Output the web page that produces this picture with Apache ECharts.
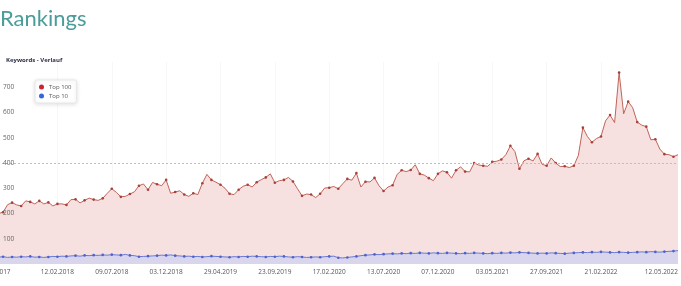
<!DOCTYPE html>
<html>
<head>
<meta charset="utf-8">
<script src="https://cdn.jsdelivr.net/npm/echarts@6/dist/echarts.min.js"></script>
<style>
html,body{margin:0;padding:0;background:#fff;}
#c{width:681px;height:286px;}
</style>
</head>
<body>
<div id="c"></div>
<script>
// Top 100 keyword counts
const top100 = [
200,200,205,235,243,234,230,250,246,238,250,238,244,230,238,238,234,255,256,242,
252,261,255,252,260,280,298,284,266,268,277,286,310,317,294,323,316,310,333,280,
285,290,275,268,280,275,320,355,333,324,314,300,278,275,294,308,314,305,324,334,
343,357,322,330,333,343,327,298,270,277,275,263,278,301,302,307,298,318,337,332,
360,305,326,325,341,310,289,305,312,355,371,366,372,393,357,352,340,330,357,369,
363,340,371,385,366,365,400,392,389,387,405,407,414,433,468,445,377,409,417,408,
436,395,389,420,400,386,387,382,389,430,540,505,482,497,505,567,590,560,758,595,
643,619,562,550,544,492,494,455,435,433,425,433
];
// Top 10 keyword counts
const top10 = [
28,27,29,26,28,27,29,28,30,27,28,
26,28,30,29,31,30,32,33,31,34,
33,35,34,36,35,37,36,35,38,34,
33,29,30,31,32,33,35,34,36,33,
32,30,31,29,30,28,29,31,30,29,
28,27,29,28,30,29,31,30,29,28,
30,29,31,30,28,27,29,28,26,27,
28,27,29,30,31,25,24,26,28,30,
33,35,36,38,37,39,40,41,40,42,
41,43,42,44,43,42,44,43,42,44,
43,42,41,43,42,44,43,42,41,43,
42,44,43,45,44,46,45,44,43,42,
43,42,44,43,42,41,43,44,45,46,
45,47,46,48,47,46,45,47,46,45,
46,47,48,47,49,48,47,49,50,51,
53
];
// x-axis tick positions (data index) and their labels
const tickIndex = [0,14,26,38,50,62,74,86,98,110,122,134,151];
const tickLabels = ['28.08.2017','12.02.2018','09.07.2018','03.12.2018','29.04.2019','23.09.2019','17.02.2020','13.07.2020','07.12.2020','03.05.2021','27.09.2021','21.02.2022','12.05.2022'];
const yTicks = [100,200,300,400,500,600,700];

const categories = top100.map((_, i) => String(i));
const labelOf = {};
tickIndex.forEach((k, j) => { labelOf[k] = tickLabels[j]; });

const chart = echarts.init(document.getElementById('c'), null, {renderer: 'canvas'});
const FONT = '"Open Sans", "Noto Sans", sans-serif';
const symSize = (v, p) => (p.dataIndex % 2 === 0 ? 2.6 : 0);
chart.setOption({
  animation: false,
  backgroundColor: '#fff',
  title: [
    {text: 'Rankings', left: 0, top: 8, padding: 0, textStyle: {color: '#4b9c9a', fontSize: 22, fontWeight: 'normal', fontFamily: 'Lato, "Open Sans", sans-serif'}},
    {text: 'Keywords - Verlauf', left: 6, top: 57, padding: 0, textStyle: {color: '#2d2f4a', fontSize: 6, fontWeight: 'bold', fontFamily: FONT}}
  ],
  legend: {
    orient: 'vertical', left: 35, top: 80,
    padding: [4, 5, 4, 4], itemGap: 3, itemWidth: 5, itemHeight: 5,
    icon: 'circle',
    backgroundColor: '#fff', borderColor: '#e8e8e8', borderWidth: 1, borderRadius: 2,
    shadowBlur: 4, shadowColor: 'rgba(0,0,0,0.12)', shadowOffsetY: 1,
    textStyle: {fontSize: 6, color: '#555', fontFamily: FONT},
    data: [{name: 'Top 100', itemStyle: {color: '#cc2233'}}, {name: 'Top 10', itemStyle: {color: '#2f6ad6'}}]
  },
  grid: {left: -6, right: 3, top: 62, bottom: 22, containLabel: false, outerBoundsMode: 'none'},
  xAxis: {
    type: 'category', data: categories, boundaryGap: false,
    axisLine: {show: false}, axisTick: {show: false},
    axisLabel: {
      interval: (i) => labelOf[i] !== undefined,
      formatter: (v, i) => labelOf[i] || '',
      fontSize: 6.5, color: '#555', fontFamily: FONT, margin: 5,
      alignMaxLabel: 'right'
    },
    splitLine: {show: true, interval: (i) => labelOf[i] !== undefined && i > 0 && i < 151, lineStyle: {color: '#f7f7f7', width: 1}}
  },
  yAxis: {
    type: 'value', min: 0, max: 800, interval: 100, z: 10,
    axisLine: {show: false}, axisTick: {show: false},
    splitLine: {show: false},
    axisLabel: {
      inside: true, margin: 9, fontSize: 6.5, color: '#666', fontFamily: FONT,
      showMinLabel: false, showMaxLabel: false,
      formatter: (v) => yTicks.includes(v) ? String(v) : ''
    }
  },
  series: [
    {
      name: 'Top 100', type: 'line', data: top100,
      symbol: 'circle', symbolSize: symSize, showSymbol: true,
      itemStyle: {color: '#a8403a'},
      lineStyle: {color: '#bf6459', width: 1},
      areaStyle: {color: '#f6e0e0', opacity: 1},
      markLine: {
        silent: true, symbol: 'none', label: {show: false},
        lineStyle: {color: '#c8b8b8', type: [2, 2], width: 1},
        data: [{yAxis: 400}]
      },
      z: 2
    },
    {
      name: 'Top 10', type: 'line', data: top10,
      symbol: 'circle', symbolSize: symSize, showSymbol: true,
      itemStyle: {color: '#4a63d0'},
      lineStyle: {color: '#6b78cf', width: 1},
      areaStyle: {color: '#d9d5ec', opacity: 1},
      z: 3
    }
  ]
});
</script>
</body>
</html>
